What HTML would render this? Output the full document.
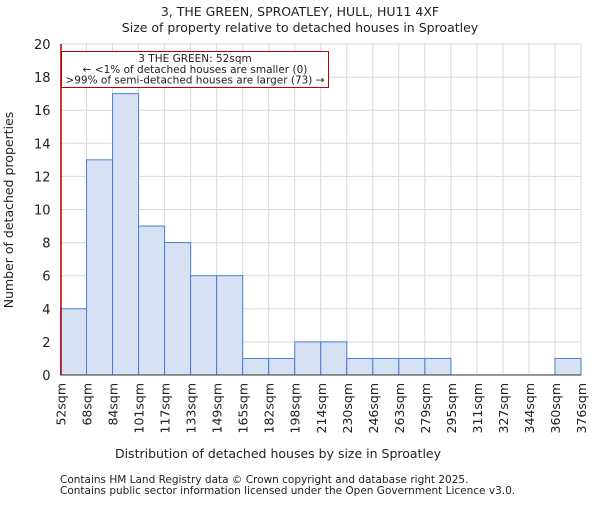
<!DOCTYPE html>
<html><head><meta charset="utf-8"><style>
body{margin:0;background:#fff;}
svg text{font-family:"DejaVu Sans","Liberation Sans",sans-serif;fill:#222;}
</style></head><body>
<svg id="chart" width="600" height="500" xmlns="http://www.w3.org/2000/svg">
<text x="300" y="16" text-anchor="middle" font-size="12.5">3, THE GREEN, SPROATLEY, HULL, HU11 4XF</text>
<text x="300" y="32" text-anchor="middle" font-size="12.5">Size of property relative to detached houses in Sproatley</text>
<g id="grid"></g><g id="bars"></g><g id="axes"></g>
<text x="278" y="458" text-anchor="middle" font-size="12.5">Distribution of detached houses by size in Sproatley</text>
<text transform="translate(13,210) rotate(-90)" text-anchor="middle" font-size="12.5">Number of detached properties</text>
<text x="60" y="483" font-size="10.5">Contains HM Land Registry data © Crown copyright and database right 2025.</text>
<text x="60" y="494" font-size="10.5">Contains public sector information licensed under the Open Government Licence v3.0.</text>
</svg>
<script>
const categories=["52sqm","68sqm","84sqm","101sqm","117sqm","133sqm","149sqm","165sqm","182sqm","198sqm","214sqm","230sqm","246sqm","263sqm","279sqm","295sqm","311sqm","327sqm","344sqm","360sqm","376sqm"];
const counts=[4,13,17,9,8,6,6,1,1,2,2,1,1,1,1,0,0,0,0,1];
const yTicks=[0,2,4,6,8,10,12,14,16,18,20];
const ns="http://www.w3.org/2000/svg";
const L=60.5,R=581,T=44,B=375;
const bw=(R-L)/counts.length;
const x=i=>L+i*bw, y=v=>B-(v/20)*(B-T);
function mk(p,tag,a){const e=document.createElementNS(ns,tag);for(const k in a)e.setAttribute(k,a[k]);p.appendChild(e);return e;}
const g=document.getElementById('grid'),bars=document.getElementById('bars'),ax=document.getElementById('axes');
yTicks.forEach(t=>{const l=mk(g,'line',{x1:L,x2:R,y1:y(t),y2:y(t),stroke:'#d8d8d8','stroke-width':1});


const tx=mk(ax,'text',{x:L-10,y:y(t)+5,'text-anchor':'end','font-size':13});tx.textContent=t;

});
categories.forEach((c,i)=>{const l=mk(g,'line',{x1:x(i),x2:x(i),y1:T,y2:B,stroke:'#d8d8d8','stroke-width':1});


const tx=mk(ax,'text',{transform:`translate(${x(i)+5},${B+8}) rotate(-90)`,'text-anchor':'end','font-size':12.5});tx.textContent=c;

});
counts.forEach((v,i)=>{if(v<=0)return;const r=mk(bars,'rect',{x:x(i),y:y(v),width:bw,height:B-y(v),fill:'#d6e1f3',stroke:'#4a7fcf','stroke-width':1});

});
const ml=mk(ax,'line',{x1:L+0.5,x2:L+0.5,y1:T,y2:B,stroke:'#c00000','stroke-width':1.5});


const bl=mk(ax,'line',{x1:L,x2:R,y1:B,y2:B,stroke:'#333','stroke-width':1});


const box=mk(ax,'rect',{x:61.5,y:51.5,width:267,height:36,fill:'#fff',stroke:'#c00000','stroke-width':1});


["3 THE GREEN: 52sqm","← <1% of detached houses are smaller (0)",">99% of semi-detached houses are larger (73) →"].forEach((s,k)=>{
const t=mk(ax,'text',{x:195,y:62+k*10.8,'text-anchor':'middle','font-size':10.5});t.textContent=s;

});
</script>
</body></html>
